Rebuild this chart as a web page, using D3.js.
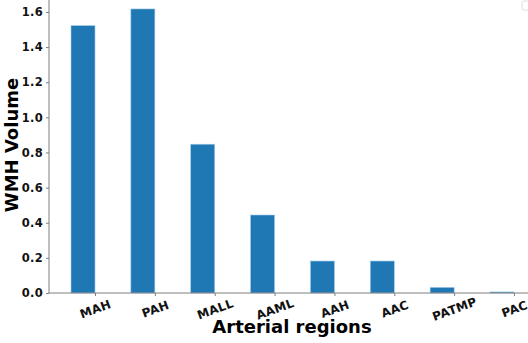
<!DOCTYPE html>
<html>
<head>
<meta charset="utf-8">
<script src="https://cdn.jsdelivr.net/npm/d3@7"></script>
<style>
  body { margin: 0; background: #fff; }
  svg { display: block; }
  text { font-family: "DejaVu Sans", sans-serif; font-weight: bold; }
</style>
</head>
<body>
<div id="chart"></div>
<script>
var regions = ["MAH", "PAH", "MALL", "AAML", "AAH", "AAC", "PATMP", "PAC"];
var volumes = [1.522, 1.617, 0.847, 0.444, 0.182, 0.182, 0.032, 0.006];
var yTicks = [0.0, 0.2, 0.4, 0.6, 0.8, 1.0, 1.2, 1.4, 1.6];

var margin = {top: 0, right: 0, bottom: 50, left: 49},
    width = 528 - margin.left - margin.right,
    height = 343 - margin.top - margin.bottom;

var svg = d3.select("#chart").append("svg")
    .attr("width", 528)
    .attr("height", 343)
    .append("g")
    .attr("transform", "translate(" + margin.left + "," + margin.top + ")");

// tick positions: one per region, bars sit to the left of each tick
var x = d3.scalePoint()
    .domain(regions)
    .range([46, 465]);
var barW = 24;

var y = d3.scaleLinear()
    .domain([0, 1.668])
    .range([height, 0]);

svg.selectAll("rect.bar")
    .data(regions)
    .enter()
    .append("rect")
    .attr("class", "bar")
    .attr("x", function (d) { return x(d) - barW; })
    .attr("y", function (d, i) { return y(volumes[i]); })
    .attr("width", barW)
    .attr("height", function (d, i) { return height - y(volumes[i]); })
    .attr("fill", "#1f77b4")
    .attr("stroke", "#9ecae9")
    .attr("stroke-width", 0.6);

// Y axis
var yAxis = svg.append("g")
    .call(d3.axisLeft(y).tickValues(yTicks).tickFormat(d3.format(".1f")).tickSize(3).tickPadding(3));
yAxis.attr("font-family", null).attr("font-size", null);
yAxis.select(".domain").attr("stroke", "#7f7f7f").attr("d", "M0," + height + "V0");
yAxis.selectAll(".tick line").attr("stroke", "#7f7f7f");
yAxis.selectAll(".tick text")
    .attr("fill", "#111")
    .style("font-size", "11.5px")
    .style("letter-spacing", "0.3px");

// X axis
var xAxis = svg.append("g")
    .attr("transform", "translate(0," + height + ")")
    .call(d3.axisBottom(x).tickSize(3).tickPadding(0));
xAxis.attr("font-family", null).attr("font-size", null);
xAxis.select(".domain").attr("stroke", "#7f7f7f").attr("d", "M0,0H" + width);
xAxis.selectAll(".tick line").attr("stroke", "#7f7f7f");
xAxis.selectAll(".tick text")
    .attr("fill", "#111")
    .style("font-size", "12px")
    .style("letter-spacing", "0.3px")
    .attr("text-anchor", "middle")
    .attr("y", 0)
    .attr("dy", "0.35em")
    .attr("transform", "translate(0,16) rotate(-20)");

// axis titles
svg.append("text")
    .attr("x", 243)
    .attr("y", height + 40)
    .attr("text-anchor", "middle")
    .style("font-size", "18px")
    .text("Arterial regions");

svg.append("text")
    .attr("transform", "rotate(-90)")
    .attr("x", -145)
    .attr("y", -31)
    .attr("text-anchor", "middle")
    .style("font-size", "18px")
    .text("WMH Volume");

// empty legend box, top-right corner
svg.append("rect")
    .attr("x", width - 6)
    .attr("y", 1)
    .attr("width", 14)
    .attr("height", 9)
    .attr("rx", 2)
    .attr("fill", "#fff")
    .attr("stroke", "#ddd");
</script>
</body>
</html>
